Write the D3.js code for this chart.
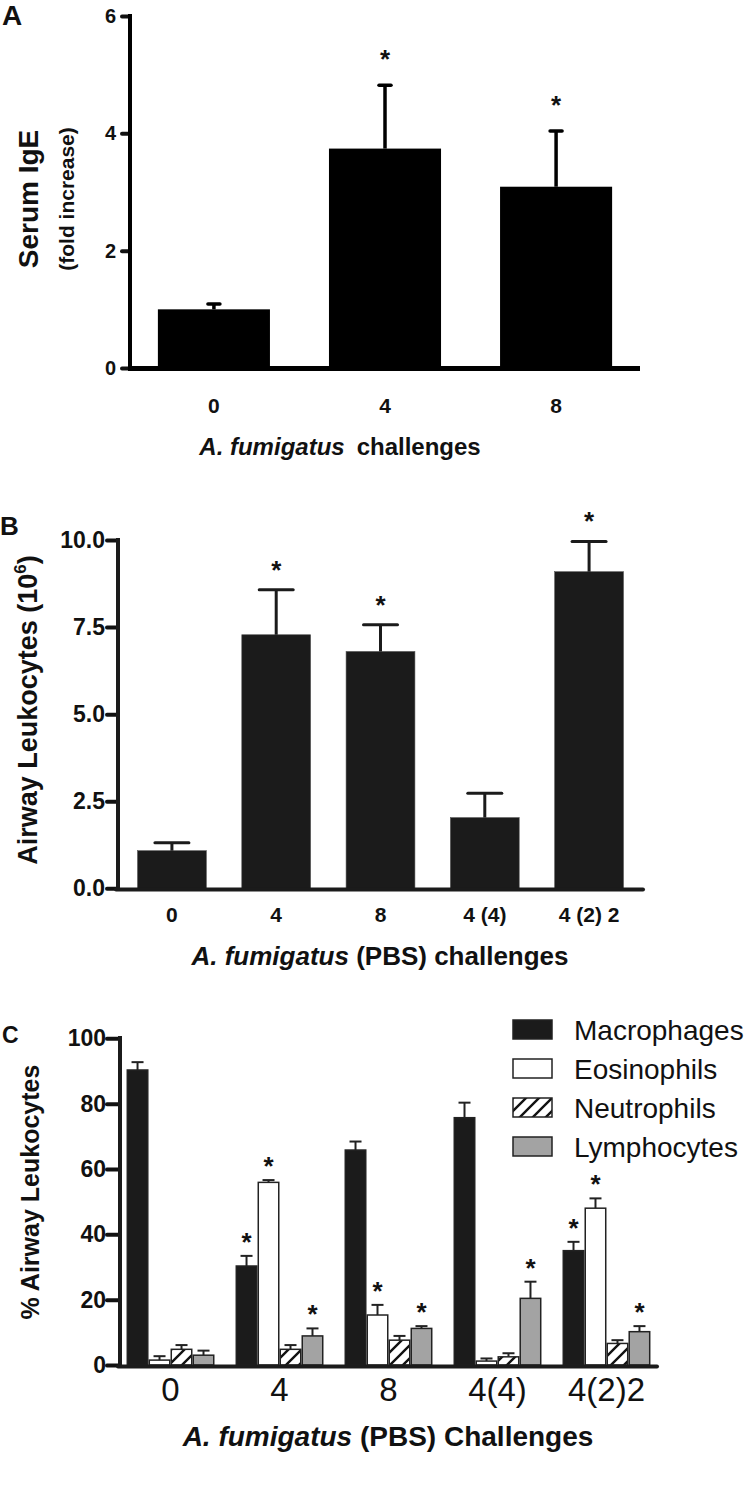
<!DOCTYPE html>
<html>
<head>
<meta charset="utf-8">
<script src="https://cdn.jsdelivr.net/npm/d3@7"></script>
<style>
  body { margin: 0; background: #fff; }
  text { font-family: "Liberation Sans", Arial, Helvetica, sans-serif; fill: #111; }
</style>
</head>
<body>
<div id="sketchpad"></div>
<script>
// panel A - serum IgE
let igeCats = ["0", "4", "8"]
let igeMean = [1.0, 3.74, 3.09]
let igeSem = [0.09, 1.08, 0.95]
let igeSig = [false, true, true]
let igeTicks = [0, 2, 4, 6]

// panel B - airway leukocytes
let leukCats = ["0", "4", "8", "4 (4)", "4 (2) 2"]
let leukMean = [1.08, 7.28, 6.80, 2.03, 9.09]
let leukSem = [0.23, 1.29, 0.77, 0.70, 0.87]
let leukSig = [false, true, true, false, true]
let leukTicks = [0, 2.5, 5, 7.5, 10]

// panel C - differential counts
let diffGroups = ["0", "4", "8", "4(4)", "4(2)2"]
let cellTypes = ["Macrophages", "Eosinophils", "Neutrophils", "Lymphocytes"]
let macMean = [90.3, 30.3, 65.8, 75.7, 35.0]
let macSem = [2.4, 3.1, 2.6, 4.6, 2.7]
let macSig = [false, true, false, false, true]
let eosMean = [1.5, 55.9, 15.3, 1.2, 48.0]
let eosSem = [1.2, 0.7, 3.1, 0.8, 3.0]
let eosSig = [false, true, true, false, true]
let neuMean = [4.8, 4.8, 7.6, 2.5, 6.6]
let neuSem = [1.3, 1.3, 1.3, 1.1, 1.0]
let neuSig = [false, false, false, false, false]
let lymMean = [3.0, 8.9, 11.2, 20.4, 10.2]
let lymSem = [1.4, 2.3, 0.7, 5.1, 1.7]
let lymSig = [false, true, true, true, true]
let diffTicks = [0, 20, 40, 60, 80, 100]

let svg = d3.select("#sketchpad")
  .append("svg")
  .attr("width", 750)
  .attr("height", 1504)

let defs = svg.append("defs")
let hatch = defs.append("pattern")
  .attr("id", "hatch")
  .attr("patternUnits", "userSpaceOnUse")
  .attr("width", 13)
  .attr("height", 13)
hatch.append("rect").attr("width", 13).attr("height", 13).attr("fill", "#fff")
hatch.append("path")
  .attr("d", "M0,13 L13,0 M-4,4 L4,-4 M9,17 L17,9")
  .attr("stroke", "#111")
  .attr("stroke-width", 2.4)

function styleAxis(g, w) {
  g.select(".domain").remove()
  g.selectAll(".tick line").attr("stroke", "#111").attr("stroke-width", w).attr("stroke-linecap", "round")
}

function starAt(g, x, y, size) {
  g.append("text")
    .attr("x", x)
    .attr("y", y)
    .attr("text-anchor", "middle")
    .attr("font-size", size)
    .attr("font-weight", "bold")
    .text("*")
}

// ---------- A ----------
let gA = svg.append("g")
let xA = d3.scaleBand().domain(igeCats).range([130, 640]).paddingInner(0.345).paddingOuter(0.163)
let yA = d3.scaleLinear().domain([0, 6]).range([368, 16])

gA.selectAll("rect.bar")
  .data(igeCats)
  .join("rect")
  .attr("x", d => xA(d))
  .attr("width", xA.bandwidth())
  .attr("y", (d, i) => yA(igeMean[i]))
  .attr("height", (d, i) => yA(0) - yA(igeMean[i]))
  .attr("fill", "#000")

igeCats.forEach((d, i) => {
  let cx = xA(d) + xA.bandwidth() / 2
  let top = yA(igeMean[i] + igeSem[i])
  gA.append("line").attr("x1", cx).attr("x2", cx).attr("y1", yA(igeMean[i])).attr("y2", top)
    .attr("stroke", "#000").attr("stroke-width", 3.5)
  gA.append("line").attr("x1", cx - 6).attr("x2", cx + 6).attr("y1", top).attr("y2", top)
    .attr("stroke", "#000").attr("stroke-width", 3.5).attr("stroke-linecap", "round")
  if (igeSig[i]) starAt(gA, cx, top - 17, 26)
})

let axA = gA.append("g").attr("transform", "translate(130,0)")
  .call(d3.axisLeft(yA).tickValues(igeTicks).tickFormat(d3.format("d")).tickSize(8).tickPadding(6))
styleAxis(axA, 4)
axA.selectAll(".tick text").attr("font-size", 20).attr("font-weight", "bold").attr("fill", "#111")
gA.append("line").attr("x1", 130).attr("x2", 130).attr("y1", 14).attr("y2", 371)
  .attr("stroke", "#000").attr("stroke-width", 4)
gA.append("line").attr("x1", 128).attr("x2", 640).attr("y1", 368.5).attr("y2", 368.5)
  .attr("stroke", "#000").attr("stroke-width", 5)

let bxA = gA.append("g").attr("transform", "translate(0,368)")
  .call(d3.axisBottom(xA).tickSize(0).tickPadding(30))
bxA.select(".domain").remove()
bxA.selectAll(".tick text").attr("font-size", 21).attr("font-weight", "bold").attr("fill", "#111")

gA.append("text").attr("x", 2).attr("y", 25).attr("font-size", 28).attr("font-weight", "bold").text("A")
gA.append("text")
  .attr("transform", "translate(38,199) rotate(-90)")
  .attr("text-anchor", "middle")
  .attr("font-size", 28).attr("font-weight", "bold")
  .text("Serum IgE")
gA.append("text")
  .attr("transform", "translate(74,199) rotate(-90)")
  .attr("text-anchor", "middle")
  .attr("font-size", 21).attr("font-weight", "bold")
  .text("(fold increase)")
let tA = gA.append("text").attr("x", 340).attr("y", 455).attr("text-anchor", "middle")
  .attr("font-size", 24).attr("font-weight", "bold")
tA.append("tspan").attr("font-style", "italic").text("A. fumigatus")
tA.append("tspan").attr("dx", 12).text("challenges")

// ---------- B ----------
let gB = svg.append("g")
let xB = d3.scaleBand().domain(leukCats).range([118, 643]).paddingInner(0.34).paddingOuter(0.187)
let yB = d3.scaleLinear().domain([0, 10]).range([888.3, 540])

gB.selectAll("rect.bar")
  .data(leukCats)
  .join("rect")
  .attr("x", d => xB(d))
  .attr("width", xB.bandwidth())
  .attr("y", (d, i) => yB(leukMean[i]))
  .attr("height", (d, i) => yB(0) - yB(leukMean[i]))
  .attr("fill", "#1b1b1b")
  .attr("stroke", "#555")
  .attr("stroke-width", 0.6)

leukCats.forEach((d, i) => {
  let cx = xB(d) + xB.bandwidth() / 2
  let top = yB(leukMean[i] + leukSem[i])
  gB.append("line").attr("x1", cx).attr("x2", cx).attr("y1", yB(leukMean[i])).attr("y2", top)
    .attr("stroke", "#1b1b1b").attr("stroke-width", 3)
  gB.append("line").attr("x1", cx - 17).attr("x2", cx + 17).attr("y1", top).attr("y2", top)
    .attr("stroke", "#1b1b1b").attr("stroke-width", 3).attr("stroke-linecap", "round")
  if (leukSig[i]) starAt(gB, cx, top - 11, 26)
})

let axB = gB.append("g").attr("transform", "translate(118,0)")
  .call(d3.axisLeft(yB).tickValues(leukTicks).tickFormat(d3.format(".1f")).tickSize(11).tickPadding(2))
styleAxis(axB, 4)
axB.selectAll(".tick text").attr("font-size", 23).attr("font-weight", "bold").attr("fill", "#1b1b1b")
gB.append("line").attr("x1", 118).attr("x2", 118).attr("y1", 538).attr("y2", 891)
  .attr("stroke", "#1b1b1b").attr("stroke-width", 4)
gB.append("line").attr("x1", 116).attr("x2", 643).attr("y1", 889.5).attr("y2", 889.5)
  .attr("stroke", "#1b1b1b").attr("stroke-width", 4).attr("stroke-linecap", "round")

let bxB = gB.append("g").attr("transform", "translate(0,889)")
  .call(d3.axisBottom(xB).tickSize(0).tickPadding(18))
bxB.select(".domain").remove()
bxB.selectAll(".tick text").attr("font-size", 21).attr("font-weight", "bold").attr("fill", "#1b1b1b")

gB.append("text").attr("x", 0).attr("y", 535).attr("font-size", 26).attr("font-weight", "bold").text("B")
let yTitleB = gB.append("text")
  .attr("transform", "translate(37,710) rotate(-90)")
  .attr("text-anchor", "middle")
  .attr("font-size", 27).attr("font-weight", "bold")
yTitleB.append("tspan").text("Airway Leukocytes (10")
yTitleB.append("tspan").attr("font-size", 17).attr("dy", -11).text("6")
yTitleB.append("tspan").attr("dy", 11).text(")")
let tB = gB.append("text").attr("x", 380).attr("y", 965).attr("text-anchor", "middle")
  .attr("font-size", 26).attr("font-weight", "bold")
tB.append("tspan").attr("font-style", "italic").text("A. fumigatus")
tB.append("tspan").text(" (PBS) challenges")

// ---------- C ----------
let gC = svg.append("g")
let xC = d3.scaleBand().domain(diffGroups).range([120, 657]).paddingInner(0.193).paddingOuter(0.06)
let xSub = d3.scaleBand().domain(cellTypes).range([0, xC.bandwidth()]).padding(0)
let yC = d3.scaleLinear().domain([0, 100]).range([1365, 1038.3])

let fills = { Macrophages: "#1b1b1b", Eosinophils: "#fff", Neutrophils: "url(#hatch)", Lymphocytes: "#a3a3a3" }
let means = { Macrophages: macMean, Eosinophils: eosMean, Neutrophils: neuMean, Lymphocytes: lymMean }
let sems = { Macrophages: macSem, Eosinophils: eosSem, Neutrophils: neuSem, Lymphocytes: lymSem }
let sigs = { Macrophages: macSig, Eosinophils: eosSig, Neutrophils: neuSig, Lymphocytes: lymSig }

diffGroups.forEach((grp, gi) => {
  cellTypes.forEach(ct => {
    let x = xC(grp) + xSub(ct)
    let w = xSub.bandwidth()
    let v = means[ct][gi]
    let cx = x + w / 2
    let top = yC(v + sems[ct][gi])
    gC.append("line").attr("x1", cx).attr("x2", cx).attr("y1", yC(v)).attr("y2", top)
      .attr("stroke", "#222").attr("stroke-width", 2)
    gC.append("line").attr("x1", cx - 6).attr("x2", cx + 6).attr("y1", top).attr("y2", top)
      .attr("stroke", "#222").attr("stroke-width", 2)
    gC.append("rect")
      .attr("x", x + 0.75).attr("width", w - 1.5)
      .attr("y", yC(v)).attr("height", yC(0) - yC(v))
      .attr("fill", fills[ct])
      .attr("stroke", "#222").attr("stroke-width", 1.5)
    if (sigs[ct][gi]) starAt(gC, cx, top - 5, 26)
  })
})

let axC = gC.append("g").attr("transform", "translate(120,0)")
  .call(d3.axisLeft(yC).tickValues(diffTicks).tickFormat(d3.format("d")).tickSize(13).tickPadding(1))
styleAxis(axC, 4)
axC.selectAll(".tick text").attr("font-size", 23).attr("font-weight", "bold").attr("fill", "#1b1b1b")
gC.append("line").attr("x1", 120).attr("x2", 120).attr("y1", 1036).attr("y2", 1368)
  .attr("stroke", "#1b1b1b").attr("stroke-width", 4)
gC.append("line").attr("x1", 118).attr("x2", 657).attr("y1", 1366.5).attr("y2", 1366.5)
  .attr("stroke", "#1b1b1b").attr("stroke-width", 4).attr("stroke-linecap", "round")

let bxC = gC.append("g").attr("transform", "translate(0,1366)")
  .call(d3.axisBottom(xC).tickSize(0).tickPadding(12))
bxC.select(".domain").remove()
bxC.selectAll(".tick text").attr("font-size", 33).attr("fill", "#1b1b1b")

gC.append("text").attr("x", 2).attr("y", 1043).attr("font-size", 23).attr("font-weight", "bold").text("C")
gC.append("text")
  .attr("transform", "translate(39,1192) rotate(-90)")
  .attr("text-anchor", "middle")
  .attr("font-size", 25).attr("font-weight", "bold")
  .text("% Airway Leukocytes")
let tC = gC.append("text").attr("x", 388).attr("y", 1446).attr("text-anchor", "middle")
  .attr("font-size", 28).attr("font-weight", "bold")
tC.append("tspan").attr("font-style", "italic").text("A. fumigatus")
tC.append("tspan").text(" (PBS) Challenges")

// legend
let lg = gC.append("g").attr("transform", "translate(513,1020)")
cellTypes.forEach((ct, i) => {
  lg.append("rect").attr("x", 0).attr("y", i * 39).attr("width", 39).attr("height", 19)
    .attr("fill", fills[ct]).attr("stroke", "#222").attr("stroke-width", 1.5)
  lg.append("text").attr("x", 61).attr("y", i * 39 + 19.5).attr("font-size", 28).attr("fill", "#1b1b1b").text(ct)
})
</script>
</body>
</html>
